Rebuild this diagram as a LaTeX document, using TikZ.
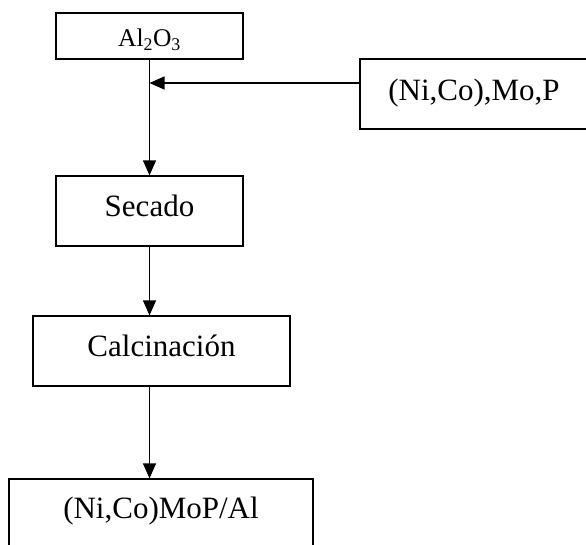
\documentclass[tikz,border=0pt]{standalone}
\usepackage{fontspec}
\setmainfont{Liberation Serif}
\usetikzlibrary{arrows.meta}
\begin{document}
\begin{tikzpicture}[x=1pt,y=-1pt,
  box/.style={draw, line width=1.3pt, rectangle, inner sep=0pt,
    font=\fontsize{31}{36}\selectfont, text depth=0pt},
  flow/.style={line width=1.3pt, -{Triangle[length=15pt,width=13pt]}}]
\useasboundingbox (0,0) rectangle (586,544);
\clip (0,0) rectangle (586,544);

% process boxes
\node[box, minimum width=187pt, minimum height=46pt, text height=21pt,
  font=\fontsize{25.5}{30}\selectfont] (al) at (149.5,36) {Al\textsubscript{2}O\textsubscript{3}};
\node[box, minimum width=228pt, minimum height=70pt, text height=12pt] (nicomop) at (474,94) {(Ni,Co),Mo,P};
\node[box, minimum width=187pt, minimum height=70pt, text height=10pt] (secado) at (149.5,211) {Secado};
\node[box, minimum width=257pt, minimum height=70pt, text height=10pt] (calc) at (161.5,351) {Calcinación};
\node[box, minimum width=304pt, minimum height=70pt, text height=9pt] (final) at (161,514) {(Ni,Co)MoP/Al};

% feed of the impregnating solution into the main line
\coordinate (join) at (149.5,83);
\draw[flow] (join -| nicomop.west) -- (join);

% main process line
\draw[flow] (al.south) -- (secado.north);
\draw[flow] (secado.south) -- (calc.north -| secado.south);
\draw[flow] (calc.south -| secado.south) -- (final.north -| secado.south);
\end{tikzpicture}
\end{document}
